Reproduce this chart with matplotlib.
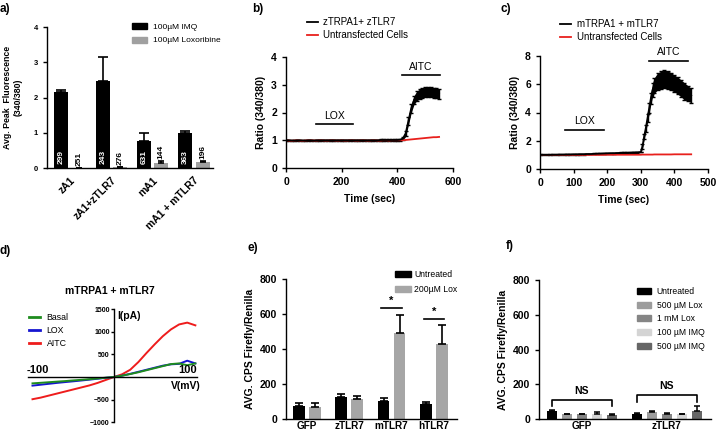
import numpy as np
import matplotlib
matplotlib.use('Agg')
import matplotlib.pyplot as plt
from matplotlib.patches import Patch
from matplotlib.lines import Line2D

plt.rcParams['font.family'] = ['Liberation Sans', 'DejaVu Sans']
plt.rcParams['font.weight'] = 'bold'
plt.rcParams['axes.labelweight'] = 'bold'
plt.rcParams['axes.linewidth'] = 1.0
plt.rcParams['xtick.major.width'] = 1.0
plt.rcParams['ytick.major.width'] = 1.0
plt.rcParams['xtick.major.size'] = 3
plt.rcParams['ytick.major.size'] = 3

# ---------------- data ----------------
# panel a
a_groups = ['zA1', 'zA1+zTLR7', 'mA1', 'mA1 + mTLR7']
a_imq = [2.15, 2.48, 0.77, 0.98]
a_imq_err = [0.07, 0.67, 0.23, 0.08]
a_lox = [0.01, 0.02, 0.13, 0.17]
a_lox_err = [0.0, 0.0, 0.06, 0.02]
a_imq_n = ['299', '243', '631', '363']
a_lox_n = ['251', '276', '144', '196']

# panel b
b_time = np.arange(0, 560, 10)
b_black = [1.00, 1.00, 0.99, 0.99, 1.00, 1.00, 0.99, 0.99, 1.00, 1.00,
           0.99, 1.00, 1.00, 1.00, 1.00, 1.00, 1.00, 1.00, 1.00, 1.00,
           1.00, 1.00, 1.00, 1.00, 1.00, 1.00, 1.00, 1.00, 1.00, 1.00,
           1.00, 1.00, 1.00, 1.00, 1.01, 1.01, 1.01, 1.01, 1.01, 1.01,
           1.01, 1.02, 1.06, 1.25, 1.70, 2.15, 2.45, 2.60, 2.66, 2.70,
           2.73, 2.75, 2.74, 2.72, 2.70, 2.68]
b_black_err = [0.02] * 41 + [0.03, 0.05, 0.10, 0.14, 0.15, 0.16, 0.17, 0.18,
                             0.18, 0.18, 0.18, 0.18, 0.18, 0.18, 0.18]
b_red = [1.00, 0.99, 0.98, 0.99, 1.00, 0.99, 0.98, 0.99, 1.00, 1.00,
         0.99, 0.99, 1.00, 1.00, 0.99, 0.99, 1.00, 1.00, 0.99, 0.99,
         1.00, 0.99, 0.99, 1.00, 1.00, 0.99, 0.99, 1.00, 1.00, 0.99,
         0.99, 1.00, 1.00, 0.99, 0.99, 1.00, 1.00, 0.99, 1.00, 1.00,
         1.00, 1.00, 1.00, 1.01, 1.02, 1.03, 1.04, 1.05, 1.06, 1.07,
         1.08, 1.09, 1.10, 1.11, 1.11, 1.12]
b_lox_bar = [108, 241, 1.58]
b_aitc_bar = [417, 552, 3.35]

# panel c
c_time = np.concatenate([np.arange(0, 310, 10), np.arange(305, 340, 5), np.arange(340, 460, 10)])
c_black = [1.00, 1.00, 1.00, 1.00, 1.01, 1.01, 1.02, 1.02, 1.03, 1.03,
           1.04, 1.04, 1.05, 1.05, 1.06, 1.06, 1.07, 1.08, 1.09, 1.10,
           1.11, 1.12, 1.12, 1.13, 1.14, 1.15, 1.15, 1.16, 1.17, 1.18,
           1.20,
           1.60, 2.30, 2.90, 3.60, 4.30, 5.00, 5.60,
           5.90, 6.20, 6.30, 6.35, 6.30, 6.20, 6.05, 5.90, 5.70, 5.50,
           5.35, 5.20]
c_black_err = [0.03] * 31 + [0.15, 0.2, 0.25, 0.3, 0.35, 0.4, 0.5] + \
              [0.55, 0.6, 0.62, 0.65, 0.65, 0.62, 0.6, 0.6, 0.6, 0.6, 0.55, 0.5]
c_red = [1.00] * 20 + [1.01] * 11 + [1.02] * 7 + [1.03] * 6 + [1.04] * 6
c_lox_bar = [74, 190, 2.76]
c_aitc_bar = [324, 440, 7.65]

# panel d
d_volt = np.arange(-100, 101, 10)
d_basal = [-140, -128, -115, -102, -90, -75, -62, -48, -32, -15, 0,
           30, 65, 105, 150, 195, 240, 285, 300, 260, 300]
d_lox = [-190, -170, -150, -130, -112, -95, -77, -58, -38, -18, 0,
         30, 70, 115, 160, 205, 250, 280, 290, 360, 300]
d_aitc = [-490, -455, -410, -365, -320, -275, -230, -185, -130, -65, 0,
          60, 160, 330, 530, 720, 900, 1050, 1160, 1200, 1140]

# panel e
e_groups = ['GFP', 'zTLR7', 'mTLR7', 'hTLR7']
e_untr = [76, 128, 105, 86]
e_untr_err = [15, 15, 14, 13]
e_lox = [68, 114, 491, 429]
e_lox_err = [23, 17, 103, 108]
e_sig = {2: 634, 3: 571}

# panel f
f_groups = ['GFP', 'zTLR7']
f_labels = ['Untreated', '500 \u00b5M Lox', '1 mM Lox', '100 \u00b5M IMQ', '500 \u00b5M IMQ']
f_colors = ['#000000', '#9c9c9c', '#858585', '#d4d4d4', '#666666']
f_untr = [48, 30]
f_lox500 = [27, 42]
f_lox1mm = [28, 31]
f_imq100 = [30, 27]
f_imq500 = [23, 45]
f_err = [[4, 4], [3, 5], [3, 3], [12, 3], [4, 30]]
f_ns = [[108, 75, 75], [137, 100, 100]]

# ---------------- figure ----------------
W, H = 717, 433
fig = plt.figure(figsize=(W / 100, H / 100), dpi=100)


def axpx(l, t, r, b):
    return fig.add_axes([l / W, 1 - b / H, (r - l) / W, (b - t) / H])


def fp(x, y):
    return (x / W, 1 - y / H)


def clean(ax):
    ax.spines['top'].set_visible(False)
    ax.spines['right'].set_visible(False)


def legend_at(ax, handles, labels, x, y, fs, **kw):
    leg = ax.legend(handles, labels, loc='upper left', bbox_to_anchor=fp(x, y),
                    bbox_transform=fig.transFigure, frameon=False, borderpad=0,
                    borderaxespad=0, prop={'size': fs, 'weight': 'normal'}, **kw)
    return leg


# panel labels
for t, (x, y) in zip(['a)', 'b)', 'c)', 'd)', 'e)', 'f)'],
                     [(0, 9), (252, 9), (500, 9), (0, 251), (247, 248), (506, 246)]):
    fig.text(*fp(x, y), t, fontsize=8.5, fontweight='bold', ha='left', va='center')

# ---- panel a ----
ax = axpx(47, 27, 213, 168)
clean(ax)
xa = np.arange(len(a_groups))
off, w = 0.21, 0.34
ax.bar(xa - off, a_imq, w, color='black')
ax.bar(xa + off, a_lox, w, color='#a0a0a0')
ax.errorbar(xa - off, a_imq, yerr=[np.zeros(4), a_imq_err], fmt='none', ecolor='black',
            elinewidth=1.2, capsize=3.5, capthick=1.2)
ax.errorbar(xa + off, a_lox, yerr=[np.zeros(4), a_lox_err], fmt='none', ecolor='black',
            elinewidth=1.2, capsize=2.5, capthick=1.2)
for i in range(len(a_groups)):
    ax.text(xa[i] - off, 0.1, a_imq_n[i], rotation=90, color='white', fontsize=6,
            ha='center', va='bottom')
    ax.text(xa[i] + off, a_lox[i] + a_lox_err[i] + 0.06, a_lox_n[i], rotation=90,
            color='black', fontsize=6, ha='center', va='bottom')
ax.set_xlim(-0.557, 3.46)
ax.set_ylim(0, 4)
ax.set_yticks([0, 1, 2, 3, 4])
ax.tick_params(axis='y', labelsize=5.5)
ax.set_xticks(xa)
ax.set_xticklabels(a_groups, rotation=45, ha='right', rotation_mode='anchor', fontsize=7.5)
ax.tick_params(axis='x', length=0, pad=5)
ax.set_ylabel('Avg. Peak  Fluorescence\n(340/380)', fontsize=6.3, labelpad=8)
legend_at(ax, [Patch(color='black'), Patch(color='#a0a0a0')],
          ['100\u00b5M IMQ', '100\u00b5M Loxoribine'], 132, 23, 6,
          handlelength=1.8, handletextpad=0.7, labelspacing=0.7)

# ---- panel b ----
ax = axpx(286, 57, 453, 168)
clean(ax)
ax.fill_between(b_time, np.array(b_black) - np.array(b_black_err),
                np.array(b_black) + np.array(b_black_err), color='black', lw=0)
ax.errorbar(b_time, b_black, yerr=b_black_err, fmt='none', ecolor='black',
            elinewidth=1, capsize=1.5)
ax.plot(b_time, b_red, color='#e8201c', lw=1.3)
ax.plot(b_time, b_black, color='black', lw=1.3)
ax.plot(b_lox_bar[:2], [b_lox_bar[2]] * 2, color='black', lw=1.2)
ax.text(np.mean(b_lox_bar[:2]), b_lox_bar[2] + 0.12, 'LOX', fontsize=7.5,
        fontweight='normal', ha='center', va='bottom')
ax.plot(b_aitc_bar[:2], [b_aitc_bar[2]] * 2, color='black', lw=1.2, clip_on=False)
ax.text(np.mean(b_aitc_bar[:2]), b_aitc_bar[2] + 0.12, 'AITC', fontsize=7.5,
        fontweight='normal', ha='center', va='bottom')
ax.set_xlim(0, 600)
ax.set_ylim(0, 4)
ax.set_xticks([0, 200, 400, 600])
ax.set_yticks([0, 1, 2, 3, 4])
ax.tick_params(labelsize=7.5)
ax.set_xlabel('Time (sec)', fontsize=7.5, labelpad=5)
ax.set_ylabel('Ratio (340/380)', fontsize=7.5, labelpad=4)
legend_at(ax, [Line2D([], [], color='black', lw=1.3), Line2D([], [], color='#e8201c', lw=1.3)],
          ['zTRPA1+ zTLR7', 'Untransfected Cells'], 307, 17, 7,
          handlelength=1.15, handletextpad=0.5, labelspacing=0.35)

# ---- panel c ----
ax = axpx(540, 56, 708, 169)
clean(ax)
ax.fill_between(c_time, np.array(c_black) - np.array(c_black_err),
                np.array(c_black) + np.array(c_black_err), color='black', lw=0)
ax.errorbar(c_time, c_black, yerr=c_black_err, fmt='none', ecolor='black',
            elinewidth=1, capsize=1.5)
ax.plot(c_time, c_red, color='#e8201c', lw=1.3)
ax.plot(c_time, c_black, color='black', lw=1.3)
ax.plot(c_lox_bar[:2], [c_lox_bar[2]] * 2, color='black', lw=1.2)
ax.text(np.mean(c_lox_bar[:2]), c_lox_bar[2] + 0.25, 'LOX', fontsize=7.5,
        fontweight='normal', ha='center', va='bottom')
ax.plot(c_aitc_bar[:2], [c_aitc_bar[2]] * 2, color='black', lw=1.2, clip_on=False)
ax.text(np.mean(c_aitc_bar[:2]), c_aitc_bar[2] + 0.25, 'AITC', fontsize=7.5,
        fontweight='normal', ha='center', va='bottom')
ax.set_xlim(0, 500)
ax.set_ylim(0, 8)
ax.set_xticks([0, 100, 200, 300, 400, 500])
ax.set_yticks([0, 2, 4, 6, 8])
ax.tick_params(labelsize=7.5)
ax.set_xlabel('Time (sec)', fontsize=7.5, labelpad=5)
ax.set_ylabel('Ratio (340/380)', fontsize=7.5, labelpad=4)
legend_at(ax, [Line2D([], [], color='black', lw=1.3), Line2D([], [], color='#e8201c', lw=1.3)],
          ['mTRPA1 + mTLR7', 'Untransfected Cells'], 560, 19, 7,
          handlelength=1.15, handletextpad=0.55, labelspacing=0.35)

# ---- panel d ----
ax = axpx(27.6, 304.5, 197, 424.6)
ax.spines['top'].set_visible(False)
ax.spines['right'].set_visible(False)
ax.spines['left'].set_position(('data', 0))
ax.spines['bottom'].set_position(('data', 0))
ax.spines['left'].set_bounds(-1000, 1500)
ax.plot(d_volt, d_aitc, color='#ee1c1c', lw=1.4)
ax.plot(d_volt, d_lox, color='#1515d0', lw=1.4)
ax.plot(d_volt, d_basal, color='#1e8c1e', lw=1.4)
ax.set_xlim(-106, 102)
ax.set_ylim(-1050, 1600)
ax.set_xticks([])
ax.set_yticks([-1000, -500, 500, 1000, 1500])
ax.tick_params(axis='y', labelsize=5, length=2, pad=1)
ax.text(-93, 35, '-100', fontsize=8, ha='center', va='bottom')
ax.text(90, 35, '100', fontsize=8, ha='center', va='bottom')
ax.text(88, -90, 'V(mV)', fontsize=7.5, ha='center', va='top')
ax.text(4, 1350, 'I(pA)', fontsize=7.5, ha='left', va='center')
fig.text(*fp(110, 291), 'mTRPA1 + mTLR7', fontsize=7.5, ha='center', va='center')
legend_at(ax, [Line2D([], [], color='#1e8c1e', lw=2), Line2D([], [], color='#1515d0', lw=2),
               Line2D([], [], color='#ee1c1c', lw=2)],
          ['Basal', 'LOX', 'AITC'], 29, 313, 6.3,
          handlelength=1.2, handletextpad=0.8, labelspacing=0.45)

# ---- panel e ----
ax = axpx(286, 279, 457, 419)
clean(ax)
xe = np.arange(len(e_groups))
off, w = 0.19, 0.28
ax.bar(xe - off, e_untr, w, color='black')
ax.bar(xe + off, e_lox, w, color='#a6a6a6')
ax.errorbar(xe - off, e_untr, yerr=[np.zeros(4), e_untr_err], fmt='none', ecolor='black',
            elinewidth=1.2, capsize=3, capthick=1.2)
ax.errorbar(xe + off, e_lox, yerr=[np.zeros(4), e_lox_err], fmt='none', ecolor='black',
            elinewidth=1.2, capsize=3, capthick=1.2)
for gi, yy in e_sig.items():
    ax.plot([xe[gi] - off - 0.05, xe[gi] + off + 0.05], [yy, yy], color='black', lw=1.2)
    ax.text(xe[gi], yy + 12, '*', fontsize=8, ha='center', va='bottom')
ax.set_xlim(-0.5, 3.55)
ax.set_ylim(0, 800)
ax.set_yticks([0, 200, 400, 600, 800])
ax.set_xticks(xe)
ax.set_xticklabels(e_groups, fontsize=7.2)
ax.tick_params(axis='y', labelsize=7.5)
ax.tick_params(axis='x', length=0, pad=1.5)
ax.set_ylabel('AVG. CPS Firefly/Renilla', fontsize=7.5, labelpad=3)
legend_at(ax, [Patch(color='black'), Patch(color='#a6a6a6')],
          ['Untreated', '200\u00b5M Lox'], 395, 270, 6.2,
          handlelength=1.8, handletextpad=0.4, labelspacing=0.65)

# ---- panel f ----
ax = axpx(539, 280, 711, 419)
clean(ax)
xf = np.arange(len(f_groups))
f_series = [f_untr, f_lox500, f_lox1mm, f_imq100, f_imq500]
step, w = 0.176, 0.118
for k, (vals, col, err) in enumerate(zip(f_series, f_colors, f_err)):
    pos = xf + (k - 2) * step
    ax.bar(pos, vals, w, color=col, label=f_labels[k])
    ax.errorbar(pos, vals, yerr=[np.zeros(2), err], fmt='none', ecolor='black',
                elinewidth=1.1, capsize=2, capthick=1.1)
for gi, (top, l_end, r_end) in enumerate(f_ns):
    xl, xr = xf[gi] - 2 * step, xf[gi] + 2 * step
    ax.plot([xl, xl, xr, xr], [l_end, top, top, r_end], color='black', lw=1.2)
    ax.text(xf[gi], top + 22, 'NS', fontsize=7.5, ha='center', va='bottom')
ax.set_xlim(-0.506, 1.52)
ax.set_ylim(0, 800)
ax.set_yticks([0, 200, 400, 600, 800])
ax.set_xticks(xf)
ax.set_xticklabels(f_groups, fontsize=7.2)
ax.tick_params(axis='y', labelsize=7.5)
ax.tick_params(axis='x', length=0, pad=1.5)
ax.set_ylabel('AVG. CPS Firefly/Renilla', fontsize=7.5, labelpad=3)
legend_at(ax, [Patch(color=c) for c in f_colors], f_labels, 637, 287, 6.2,
          handlelength=1.6, handletextpad=0.7, labelspacing=0.55)

fig.savefig('out.png', dpi=100)
